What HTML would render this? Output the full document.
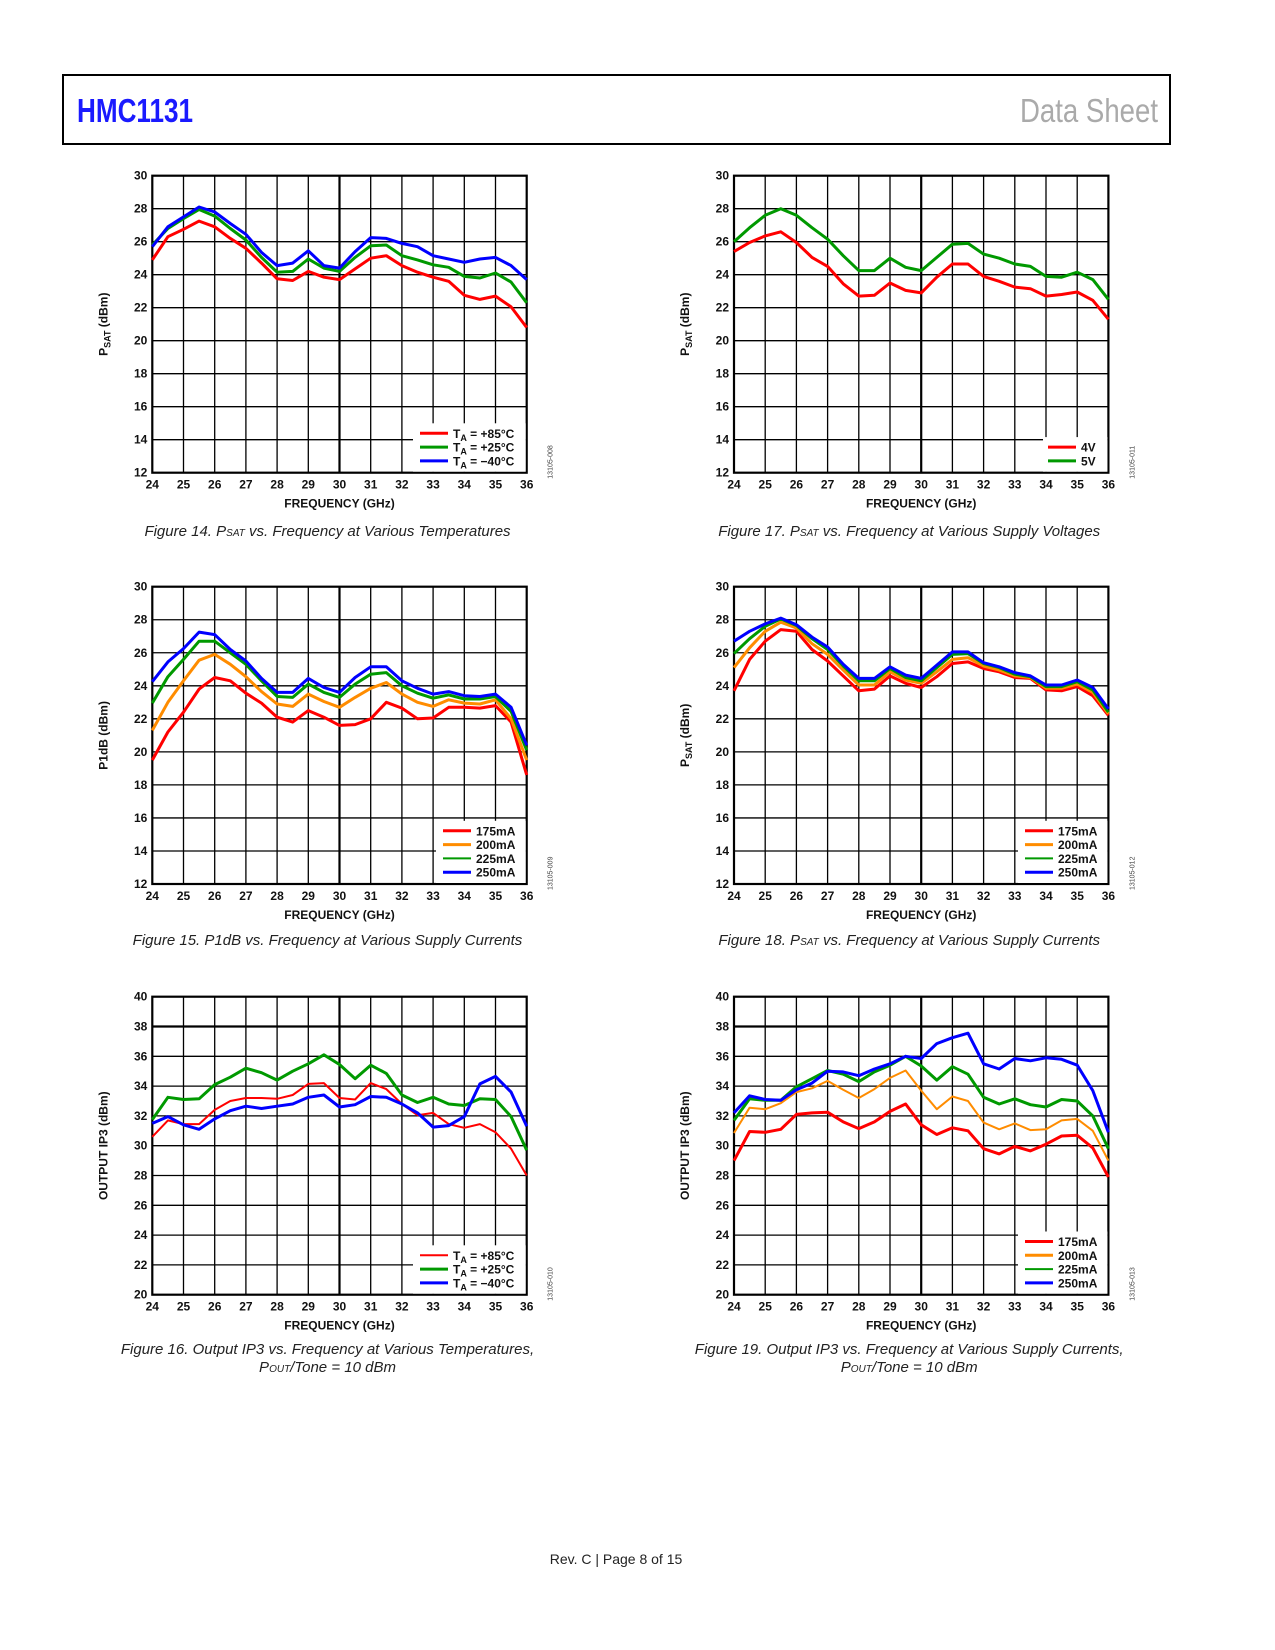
<!DOCTYPE html>
<html><head><meta charset="utf-8">
<style>
html,body{margin:0;padding:0;background:#fff;}
svg{display:block;font-family:"Liberation Sans",Arial,sans-serif;}
.tk{font-size:12px;font-weight:bold;fill:#111;}
.cap{font-size:15px;font-style:italic;fill:#222;}
</style></head>
<body>
<svg id="page" width="1275" height="1650" viewBox="0 0 1275 1650" xmlns="http://www.w3.org/2000/svg">
<rect x="63" y="75" width="1107" height="69" fill="none" stroke="#000" stroke-width="2"/>
<text x="77" y="122" textLength="116" lengthAdjust="spacingAndGlyphs" font-family="'Liberation Sans Narrow','Liberation Sans',sans-serif" font-weight="bold" font-size="33" fill="#1a1aff">HMC1131</text>
<text x="1020" y="122" textLength="138" lengthAdjust="spacingAndGlyphs" font-family="'Liberation Sans Narrow','Liberation Sans',sans-serif" font-size="33" fill="#aaa">Data Sheet</text>
<text x="616" y="1564" text-anchor="middle" font-size="14" fill="#222">Rev. C | Page 8 of 15</text>
<g id="charts"></g>
</svg>
<script>
const freqs=[24,24.5,25,25.5,26,26.5,27,27.5,28,28.5,29,29.5,30,30.5,31,31.5,32,32.5,33,33.5,34,34.5,35,35.5,36];
const xTicks=[24,25,26,27,28,29,30,31,32,33,34,35,36];
const yTicksP=[12,14,16,18,20,22,24,26,28,30];
const yTicksIP3=[20,22,24,26,28,30,32,34,36,38,40];
// Fig 14
const f14_85=[24.9,26.3,26.75,27.25,26.9,26.2,25.6,24.7,23.75,23.65,24.2,23.85,23.7,24.35,25.0,25.15,24.55,24.15,23.85,23.6,22.75,22.5,22.7,22.05,20.8];
const f14_25=[25.8,26.8,27.4,27.95,27.55,26.8,26.1,25.05,24.15,24.2,24.95,24.4,24.2,25.05,25.75,25.8,25.15,24.9,24.6,24.45,23.9,23.8,24.1,23.55,22.3];
const f14_m40=[25.7,26.9,27.5,28.1,27.8,27.1,26.45,25.35,24.55,24.7,25.45,24.55,24.4,25.4,26.25,26.2,25.9,25.7,25.15,24.95,24.75,24.95,25.05,24.55,23.7];
// Fig 17
const f17_4v=[25.4,25.95,26.35,26.6,25.95,25.05,24.5,23.45,22.7,22.75,23.5,23.05,22.9,23.85,24.65,24.65,23.9,23.6,23.25,23.15,22.7,22.8,22.95,22.45,21.3];
const f17_5v=[26.0,26.85,27.6,28.0,27.6,26.85,26.15,25.15,24.25,24.25,25.0,24.45,24.25,25.05,25.85,25.9,25.25,25.0,24.65,24.5,23.9,23.85,24.15,23.7,22.5];
// Fig 15
const f15_175=[19.5,21.2,22.4,23.8,24.5,24.3,23.55,22.95,22.1,21.8,22.5,22.1,21.6,21.65,22.0,23.0,22.65,22.0,22.05,22.7,22.7,22.65,22.8,21.8,18.6];
const f15_200=[21.3,23.0,24.3,25.55,25.9,25.3,24.55,23.65,22.9,22.75,23.5,23.05,22.7,23.3,23.85,24.2,23.5,23.0,22.75,23.15,22.95,22.9,23.15,22.0,19.5];
const f15_225=[22.95,24.55,25.6,26.7,26.7,26.0,25.3,24.3,23.35,23.3,24.1,23.6,23.3,24.1,24.7,24.8,24.0,23.55,23.25,23.45,23.2,23.2,23.35,22.45,20.1];
const f15_250=[24.25,25.45,26.25,27.25,27.1,26.2,25.5,24.45,23.6,23.6,24.45,23.9,23.6,24.5,25.15,25.15,24.3,23.85,23.5,23.65,23.4,23.35,23.5,22.7,20.4];
// Fig 18
const f18_175=[23.7,25.6,26.7,27.4,27.3,26.2,25.5,24.6,23.7,23.8,24.6,24.15,23.9,24.55,25.35,25.45,25.05,24.85,24.5,24.45,23.75,23.7,23.95,23.4,22.2];
const f18_200=[25.1,26.3,27.3,27.85,27.5,26.55,25.9,24.95,24.05,24.05,24.85,24.35,24.15,24.85,25.6,25.7,25.2,24.95,24.6,24.5,23.85,23.85,24.1,23.6,22.3];
const f18_225=[25.95,26.85,27.6,28.05,27.65,26.85,26.2,25.2,24.3,24.3,25.05,24.5,24.3,25.1,25.9,25.95,25.35,25.1,24.7,24.55,23.95,23.95,24.25,23.75,22.4];
const f18_250=[26.7,27.3,27.75,28.1,27.7,26.95,26.35,25.3,24.45,24.45,25.15,24.65,24.45,25.25,26.05,26.05,25.4,25.15,24.8,24.6,24.05,24.05,24.35,23.9,22.6];
// Fig 16
const f16_85=[30.6,31.7,31.45,31.45,32.4,33.0,33.2,33.2,33.15,33.4,34.15,34.2,33.2,33.1,34.2,33.8,32.8,32.05,32.2,31.45,31.2,31.45,30.9,29.8,28.0];
const f16_25=[31.75,33.25,33.1,33.15,34.1,34.6,35.2,34.9,34.4,35.0,35.5,36.1,35.45,34.5,35.4,34.85,33.4,32.9,33.25,32.8,32.7,33.15,33.1,31.95,29.7];
const f16_m40=[31.5,31.95,31.4,31.1,31.8,32.35,32.65,32.5,32.65,32.8,33.25,33.4,32.6,32.75,33.3,33.25,32.8,32.2,31.25,31.35,31.95,34.15,34.65,33.6,31.3];
// Fig 19
const f19_175=[29.0,30.95,30.9,31.1,32.1,32.2,32.25,31.6,31.15,31.6,32.3,32.8,31.4,30.75,31.2,31.0,29.8,29.45,29.95,29.65,30.1,30.65,30.7,29.85,27.9];
const f19_200=[30.85,32.55,32.45,32.85,33.6,33.85,34.35,33.75,33.2,33.8,34.55,35.05,33.7,32.45,33.3,33.0,31.55,31.1,31.5,31.05,31.1,31.7,31.8,31.0,29.0];
const f19_225=[31.7,33.15,33.05,33.05,33.95,34.5,35.05,34.8,34.3,34.95,35.4,36.0,35.35,34.4,35.3,34.8,33.25,32.8,33.15,32.75,32.6,33.1,33.0,32.0,29.8];
const f19_250=[32.2,33.35,33.1,33.05,33.75,34.2,35.0,34.95,34.7,35.15,35.5,36.0,35.85,36.85,37.25,37.55,35.5,35.15,35.85,35.7,35.9,35.8,35.4,33.7,30.9];

const NS="http://www.w3.org/2000/svg";
const root=document.getElementById('charts');
function mk(tag,attrs,parent,txt){const e=document.createElementNS(NS,tag);for(const k in attrs)e.setAttribute(k,attrs[k]);if(txt!==undefined)e.textContent=txt;parent.appendChild(e);return e;}
const RED="#ff0000",GRN="#009900",BLU="#0000ff",ORG="#ff8c00";
function chart(o){
  const g=mk('g',{},root);
  
  
  const L=o.x0,R=o.x0+374.4,T=o.y0,B=o.y1;
  const xs=v=>L+(v-24)/12*(R-L);
  const ys=v=>B-(v-o.ymin)/(o.ymax-o.ymin)*(B-T);
  xTicks.forEach(t=>{const l=mk('line',{x1:xs(t),x2:xs(t),y1:T,y2:B,stroke:'#000','stroke-width':(t===30?2.2:1.3)},g);
    
    const tx=mk('text',{x:xs(t),y:B+16,'text-anchor':'middle',class:'tk'},g,String(t));
    });
  o.yt.forEach(t=>{const l=mk('line',{x1:L,x2:R,y1:ys(t),y2:ys(t),stroke:'#000','stroke-width':(o.thickY===t?2.2:1.3)},g);
    
    const tx=mk('text',{x:L-5,y:ys(t)+4,'text-anchor':'end',class:'tk'},g,String(t));
    });
  const fr=mk('rect',{x:L,y:T,width:R-L,height:B-T,fill:'none',stroke:'#000','stroke-width':2.2},g);
  
  const lb=o.leg;
  const bh=lb.items.length*13.8+8;
  const box=mk('rect',{x:lb.bx,y:B-bh,width:R-lb.bx-1,height:bh-1,fill:'#fff'},g);
  
  o.series.forEach(s=>{
    const p=mk('polyline',{points:s.d.map((v,i)=>xs(freqs[i]).toFixed(1)+','+ys(v).toFixed(1)).join(' '),fill:'none',stroke:s.c,'stroke-width':s.w||3,'stroke-linejoin':'round'},g);
    
  });
  lb.items.forEach((it,i)=>{
    const yy=B-bh+10+i*13.8;
    const ll=mk('line',{x1:lb.lx,x2:lb.lx+28,y1:yy,y2:yy,stroke:it.c,'stroke-width':it.w||3},g);
    
    const t=mk('text',{x:lb.lx+33,y:yy+4.5,class:'tk'},g);
    
    if(it.ta){mk('tspan',{},t,'T');mk('tspan',{'font-size':'9','dy':'3'},t,'A');mk('tspan',{'dy':'-3'},t,' = '+it.ta);}
    else t.textContent=it.t;
  });
  const xt=mk('text',{x:(L+R)/2,y:B+35,'text-anchor':'middle',class:'tk'},g,'FREQUENCY (GHz)');
  
  const cy=(T+B)/2,cx=L-45;
  const yt=mk('text',{x:cx,y:cy,'text-anchor':'middle',class:'tk',transform:`rotate(-90 ${cx} ${cy})`},g);
  
  if(o.ytitle==='PSAT'){mk('tspan',{},yt,'P');mk('tspan',{'font-size':'9','dy':'3'},yt,'SAT');mk('tspan',{'dy':'-3'},yt,' (dBm)');}
  else yt.textContent=o.ytitle;
  const id=mk('text',{x:R+26,y:B+6,'font-size':'7',fill:'#444',transform:`rotate(-90 ${R+26} ${B+6})`},g,o.code);
  
  o.cap.forEach((c,i)=>{const t=mk('text',{x:(L+R)/2-12,y:o.capY+i*18,'text-anchor':'middle',class:'cap'},g);
    
    c.forEach(p=>{if(typeof p==='object'){mk('tspan',{'font-size':'10'},t,p.s);}else mk('tspan',{},t,p);});});
}
const tempLeg=(bx,lx,w)=>({bx:bx,lx:lx,items:[{c:RED,ta:'+85°C',w:w},{c:GRN,ta:'+25°C'},{c:BLU,ta:'−40°C'}]});
const curLeg=(bx,lx)=>({bx:bx,lx:lx,items:[{c:RED,t:'175mA'},{c:ORG,t:'200mA'},{c:GRN,t:'225mA',w:2},{c:BLU,t:'250mA'}]});
chart({name:'chart-fig14',x0:152.3,y0:175.7,y1:472.7,ymin:12,ymax:30,yt:yTicksP,ytitle:'PSAT',code:'13105-008',capY:536,
  cap:[['Figure 14. P',{s:'SAT'},' vs. Frequency at Various Temperatures']],
  series:[{d:f14_85,c:RED},{d:f14_25,c:GRN},{d:f14_m40,c:BLU}],leg:tempLeg(413,420)});
chart({name:'chart-fig17',x0:734,y0:175.7,y1:472.7,ymin:12,ymax:30,yt:yTicksP,ytitle:'PSAT',code:'13105-011',capY:536,
  cap:[['Figure 17. P',{s:'SAT'},' vs. Frequency at Various Supply Voltages']],
  series:[{d:f17_4v,c:RED},{d:f17_5v,c:GRN}],leg:{bx:1043,lx:1048,items:[{c:RED,t:'4V'},{c:GRN,t:'5V'}]}});
chart({name:'chart-fig15',x0:152.3,y0:586.7,y1:884,ymin:12,ymax:30,yt:yTicksP,ytitle:'P1dB (dBm)',code:'13105-009',capY:945,
  cap:[['Figure 15. P1dB vs. Frequency at Various Supply Currents']],
  series:[{d:f15_175,c:RED},{d:f15_200,c:ORG},{d:f15_225,c:GRN},{d:f15_250,c:BLU}],leg:curLeg(436,443)});
chart({name:'chart-fig18',x0:734,y0:586.7,y1:884,ymin:12,ymax:30,yt:yTicksP,ytitle:'PSAT',code:'13105-012',capY:945,
  cap:[['Figure 18. P',{s:'SAT'},' vs. Frequency at Various Supply Currents']],
  series:[{d:f18_175,c:RED},{d:f18_200,c:ORG},{d:f18_225,c:GRN},{d:f18_250,c:BLU}],leg:curLeg(1018,1025)});
chart({name:'chart-fig16',x0:152.3,y0:996.7,y1:1294.7,ymin:20,ymax:40,yt:yTicksIP3,thickY:38,ytitle:'OUTPUT IP3 (dBm)',code:'13105-010',capY:1354,
  cap:[['Figure 16. Output IP3 vs. Frequency at Various Temperatures,'],['P',{s:'OUT'},'/Tone = 10 dBm']],
  series:[{d:f16_85,c:RED,w:2},{d:f16_25,c:GRN},{d:f16_m40,c:BLU}],leg:tempLeg(413,420,2)});
chart({name:'chart-fig19',x0:734,y0:996.7,y1:1294.7,ymin:20,ymax:40,yt:yTicksIP3,thickY:38,ytitle:'OUTPUT IP3 (dBm)',code:'13105-013',capY:1354,
  cap:[['Figure 19. Output IP3 vs. Frequency at Various Supply Currents,'],['P',{s:'OUT'},'/Tone = 10 dBm']],
  series:[{d:f19_175,c:RED},{d:f19_200,c:ORG,w:2},{d:f19_225,c:GRN},{d:f19_250,c:BLU}],leg:curLeg(1018,1025)});
</script>
</body></html>
